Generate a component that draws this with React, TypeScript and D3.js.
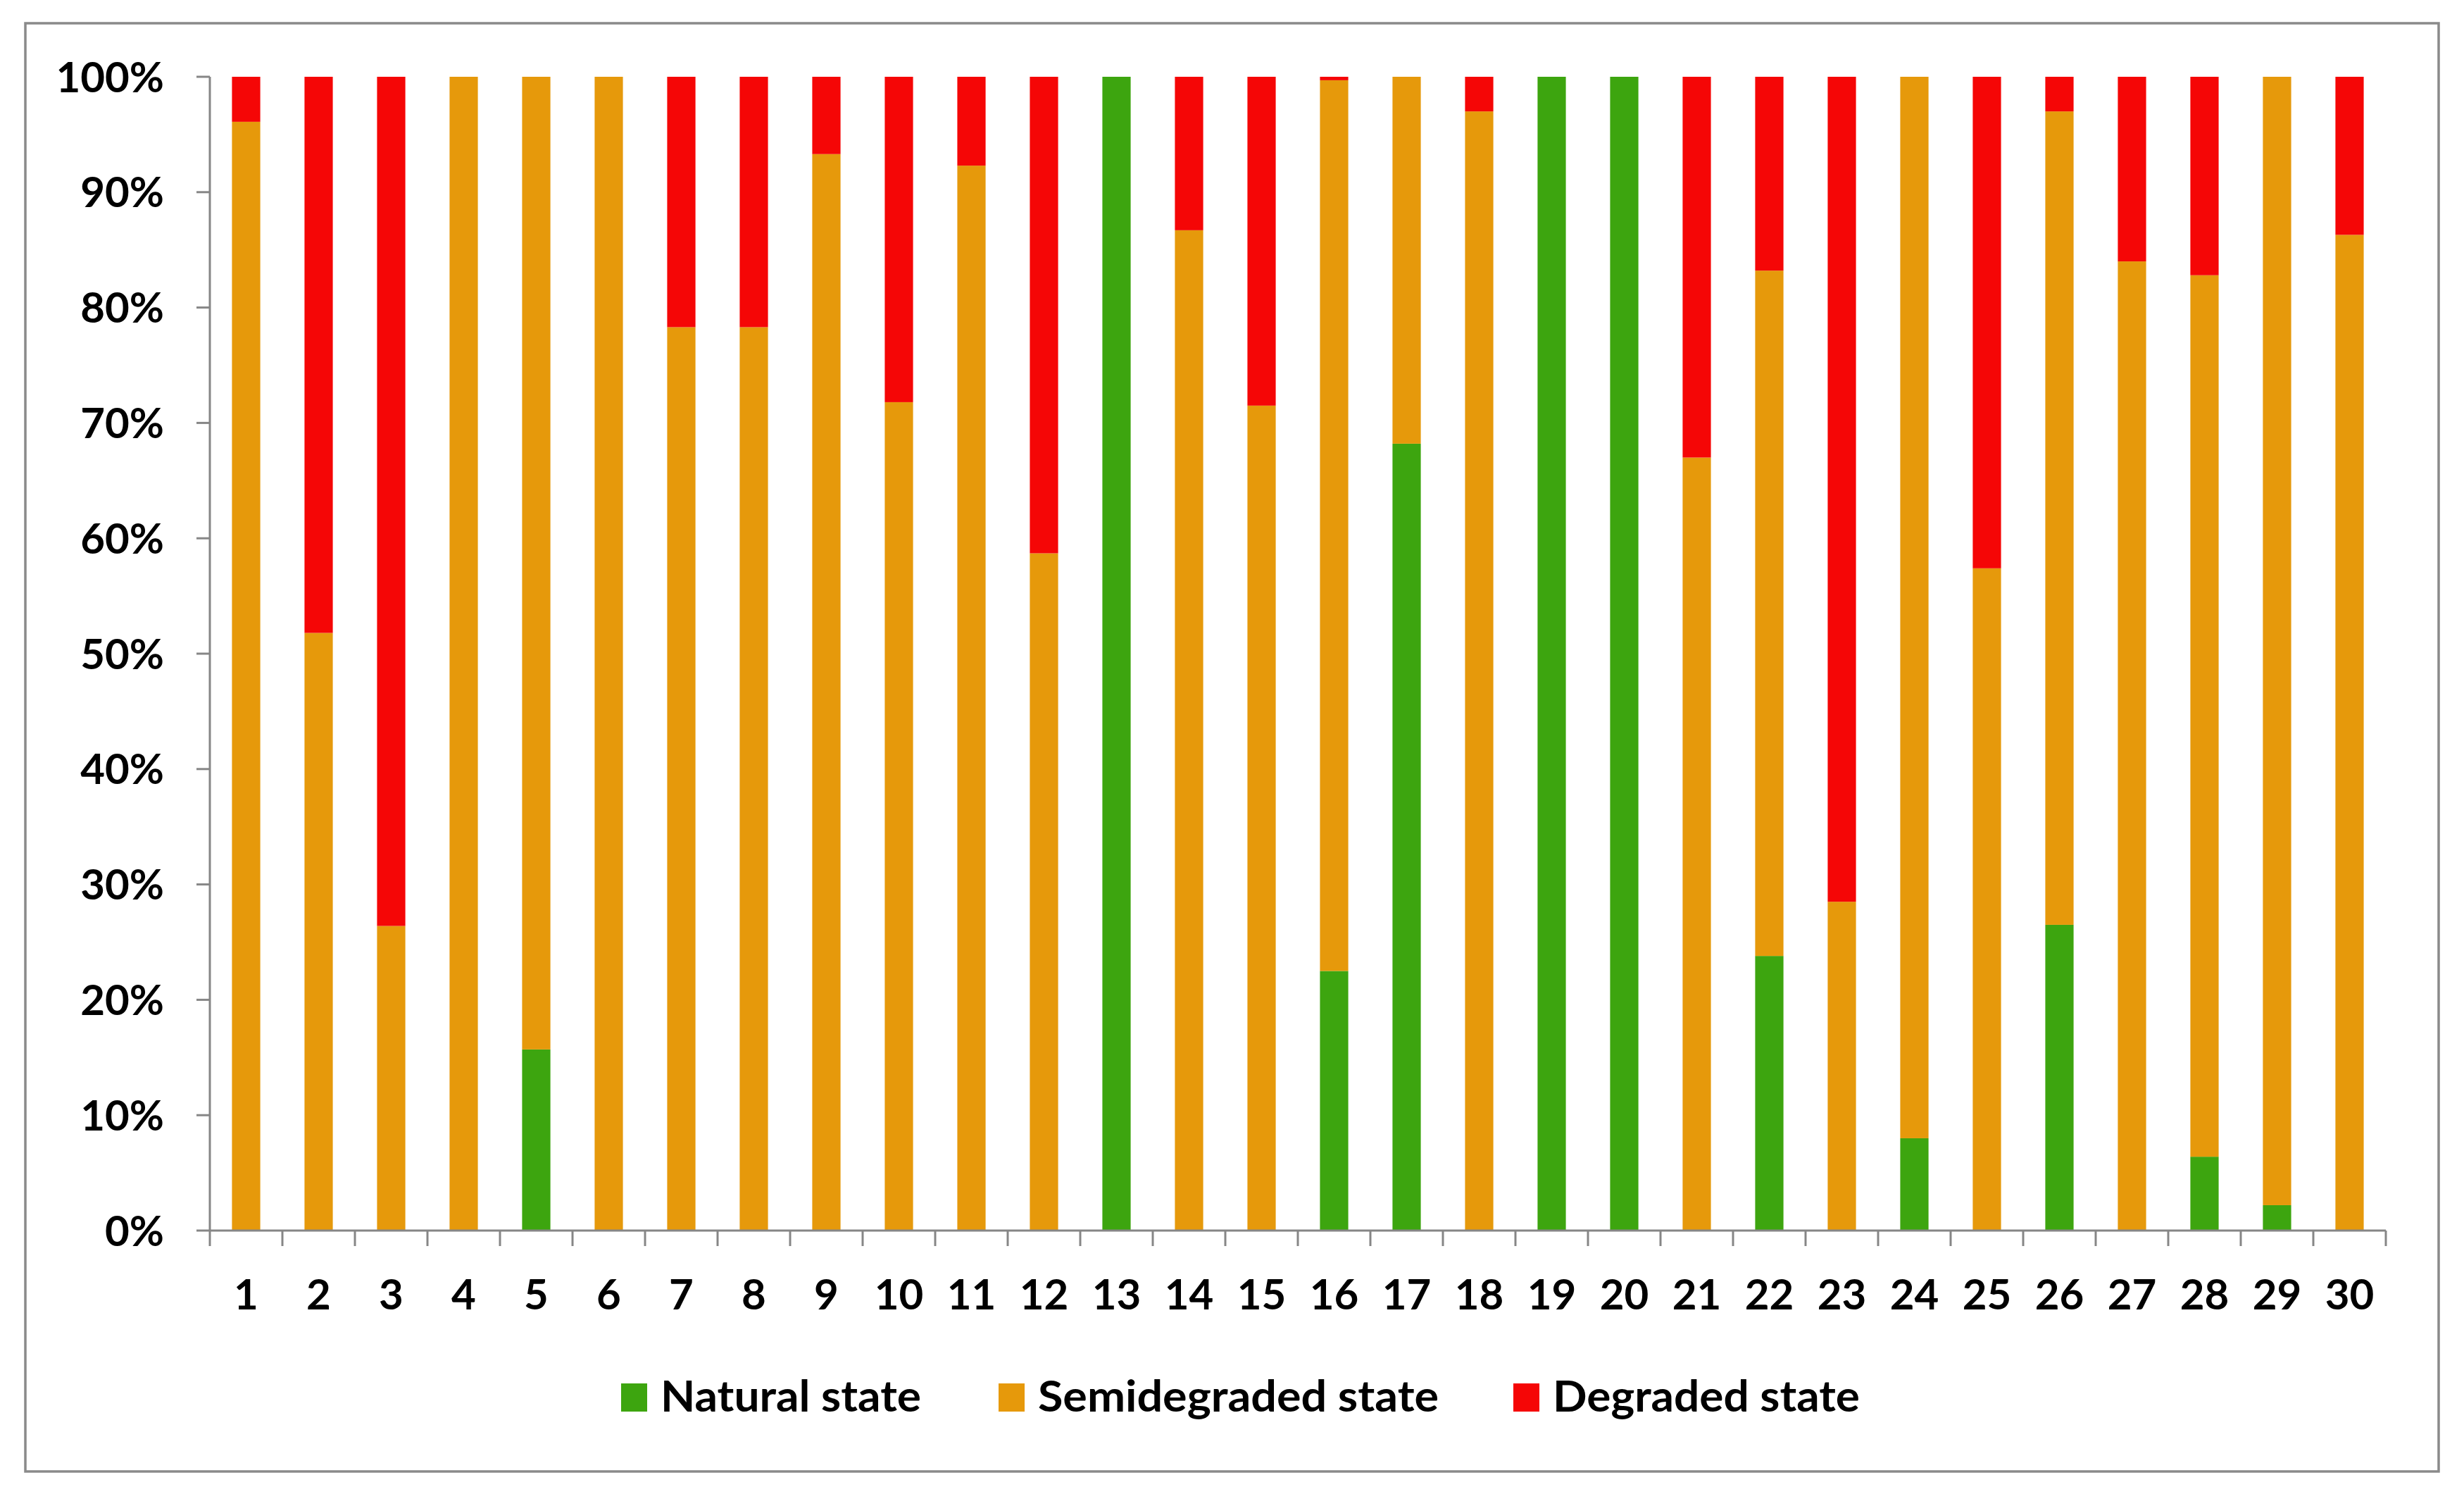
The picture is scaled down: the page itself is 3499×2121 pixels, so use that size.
import * as d3 from "d3";

// ── Data (percent of each site) ───────────────────────────────
const sites = d3.range(1, 31).map(String);

const natural = [
  0, 0, 0, 0, 15.7, 0, 0, 0, 0, 0,
  0, 0, 100, 0, 0, 22.5, 68.2, 0, 100, 100,
  0, 23.8, 0, 8.0, 0, 26.5, 0, 6.4, 2.2, 0,
];
const semidegraded = [
  96.1, 51.8, 26.4, 100, 84.3, 100, 78.3, 78.3, 93.3, 71.8,
  92.3, 58.7, 0, 86.7, 71.5, 77.2, 31.8, 97.0, 0, 0,
  67.0, 59.4, 28.5, 92.0, 57.4, 70.5, 84.0, 76.4, 97.8, 86.3,
];
const degraded = [
  3.9, 48.2, 73.6, 0, 0, 0, 21.7, 21.7, 6.7, 28.2,
  7.7, 41.3, 0, 13.3, 28.5, 0.3, 0, 3.0, 0, 0,
  33.0, 16.8, 71.5, 0, 42.6, 3.0, 16.0, 17.2, 0, 13.7,
];

const seriesNames = ["Natural state", "Semidegraded state", "Degraded state"];
const seriesKeys = ["natural", "semi", "degraded"];
const colors = ["#3da50f", "#e6990b", "#f50606"];

// ── Layout ────────────────────────────────────────────────────
const W = 3499, H = 2121;
const X0 = 298, X1 = 3388;
const Y0 = 1747, Y1 = 109;
const FONT = "Lato, 'Open Sans', sans-serif";
const FS = 60;
const AXIS = "#868686";
const legendX = [882, 1418, 2149];
const legendW = [370, 569, 436];
const legendY = 1984;

type Row = { site: string; natural: number; semi: number; degraded: number };

export default function App() {
  const rows: Row[] = sites.map((s, i) => ({
    site: s,
    natural: natural[i],
    semi: semidegraded[i],
    degraded: degraded[i],
  }));

  const x = d3.scaleBand<string>().domain(sites).range([X0, X1]).paddingInner(0.61).paddingOuter(0.305);
  const y = d3.scaleLinear().domain([0, 100]).range([Y0, Y1]);
  const stacked = d3.stack<Row>().keys(seriesKeys)(rows);

  const step = x.step();
  const yTicks = d3.range(0, 101, 10);
  const fmt = (v: number) => `${v}%`;

  return (
    <svg width={W} height={H} style={{ position: "absolute", left: 0, top: 0, background: "#fff" }}>
      <rect x={0} y={0} width={W} height={H} fill="#fff" />
      <rect x={36} y={33} width={3427} height={2056} fill="none" stroke="#8a8a8a" strokeWidth={3.5} />

      {/* bars */}
      {stacked.map((layer, li) => (
        <g key={layer.key} fill={colors[li]}>
          {layer.map((d, i) =>
            d[1] - d[0] > 0 ? (
              <rect key={i} x={x(d.data.site)} width={x.bandwidth()}
                y={y(d[1])} height={y(d[0]) - y(d[1])} />
            ) : null
          )}
        </g>
      ))}

      {/* y axis */}
      <line x1={X0} x2={X0} y1={Y1} y2={Y0} stroke={AXIS} strokeWidth={3} />
      {yTicks.map((t) => (
        <g key={t}>
          <line x1={X0 - 19} x2={X0} y1={y(t)} y2={y(t)} stroke={AXIS} strokeWidth={3} />
          <text x={233} y={y(t)} dy="0.36em" textAnchor="end"
            fontFamily={FONT} fontWeight={700} fontSize={FS} fill="#000">{fmt(t)}</text>
        </g>
      ))}

      {/* x axis */}
      <line x1={X0} x2={X1} y1={Y0} y2={Y0} stroke={AXIS} strokeWidth={3} />
      {d3.range(0, sites.length + 1).map((i) => (
        <line key={i} x1={X0 + i * step} x2={X0 + i * step} y1={Y0} y2={Y0 + 22}
          stroke={AXIS} strokeWidth={3} />
      ))}
      {sites.map((s) => (
        <text key={s} x={(x(s) as number) + x.bandwidth() / 2} y={1859} textAnchor="middle"
          fontFamily={FONT} fontWeight={700} fontSize={FS} fill="#000">{s}</text>
      ))}

      {/* legend */}
      {seriesNames.map((n, i) => (
        <g key={n}>
          <rect x={legendX[i]} y={legendY - 20} width={37} height={40} fill={colors[i]} />
          <text x={legendX[i] + 56} y={2004} fontFamily={FONT} fontWeight={700}
            fontSize={62} textLength={legendW[i]} lengthAdjust="spacingAndGlyphs"
            fill="#000">{n}</text>
        </g>
      ))}
    </svg>
  );
}
